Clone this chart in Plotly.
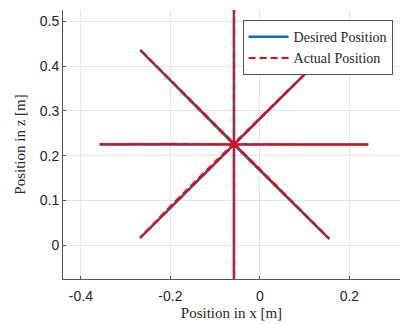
import plotly.graph_objects as go

# Desired trajectory (star pattern), path of x and z points [m]
desired_x = [-0.058, -0.058, -0.058, -0.058, -0.358, 0.242, -0.058,
             -0.268, 0.155, -0.058, -0.268, 0.155, -0.058]
desired_z = [0.225, 0.525, -0.075, 0.225, 0.225, 0.225, 0.225,
             0.436, 0.014, 0.225, 0.016, 0.436, 0.225]

# Actual trajectory (measured), small deviations from desired
actual_x = [-0.058, -0.058, -0.058, -0.058, -0.200, -0.358, 0.242, -0.058,
            -0.268, -0.160, 0.0, 0.155, -0.058, -0.268, -0.200, -0.130, 0.155, -0.058]
actual_z = [0.225, 0.525, -0.075, 0.225, 0.2265, 0.2255, 0.2252, 0.225,
            0.437, 0.329, 0.168, 0.015, 0.225, 0.017, 0.087, 0.157, 0.436, 0.225]

x_ticks = [-0.4, -0.2, 0, 0.2]
x_ticklabels = ["-0.4", "-0.2", "0", "0.2"]
z_ticks = [0, 0.1, 0.2, 0.3, 0.4, 0.5]
z_ticklabels = ["0", "0.1", "0.2", "0.3", "0.4", "0.5"]

fig = go.Figure()
fig.add_trace(go.Scatter(
    x=desired_x, y=desired_z, mode="lines", name="Desired Position",
    line=dict(color="#0072BD", width=2.6)))
fig.add_trace(go.Scatter(
    x=actual_x, y=actual_z, mode="lines", name="Actual Position",
    line=dict(color="#FF0000", width=2.0, dash="7px,4px")))

axis_common = dict(
    showgrid=True, gridcolor="#e5e5e5", gridwidth=1,
    zeroline=False, showline=True, linecolor="#555555", linewidth=1,
    ticks="inside", ticklen=3, tickcolor="#555555",
    tickfont=dict(family="Liberation Sans, Arial, sans-serif", size=14, color="#262626"),
    mirror=False, automargin=False,
)

fig.update_layout(
    width=400, height=324,
    margin=dict(l=63, r=0, t=10, b=45),
    plot_bgcolor="white", paper_bgcolor="white",
    xaxis=dict(axis_common, range=[-0.44, 0.313], tickvals=x_ticks, ticktext=x_ticklabels,
               ticklabelstandoff=4,
               title=dict(text="Position in x [m]", standoff=4,
                          font=dict(family="Liberation Serif, serif", size=15, color="#262626"))),
    yaxis=dict(axis_common, range=[-0.075, 0.525], tickvals=z_ticks, ticktext=z_ticklabels,
               title=dict(text="Position in z [m]", standoff=10,
                          font=dict(family="Liberation Serif, serif", size=15, color="#262626"))),
    legend=dict(
        x=0.978, y=0.962, xanchor="right", yanchor="top",
        bgcolor="white", bordercolor="#555555", borderwidth=1,
        font=dict(family="Liberation Serif, serif", size=14, color="#262626"),
        tracegroupgap=0, itemwidth=40,
    ),
    showlegend=True,
)

fig.write_html("out.html", config={"displayModeBar": False},
               post_script="document.body.style.margin='0';document.body.style.overflow='hidden';")
